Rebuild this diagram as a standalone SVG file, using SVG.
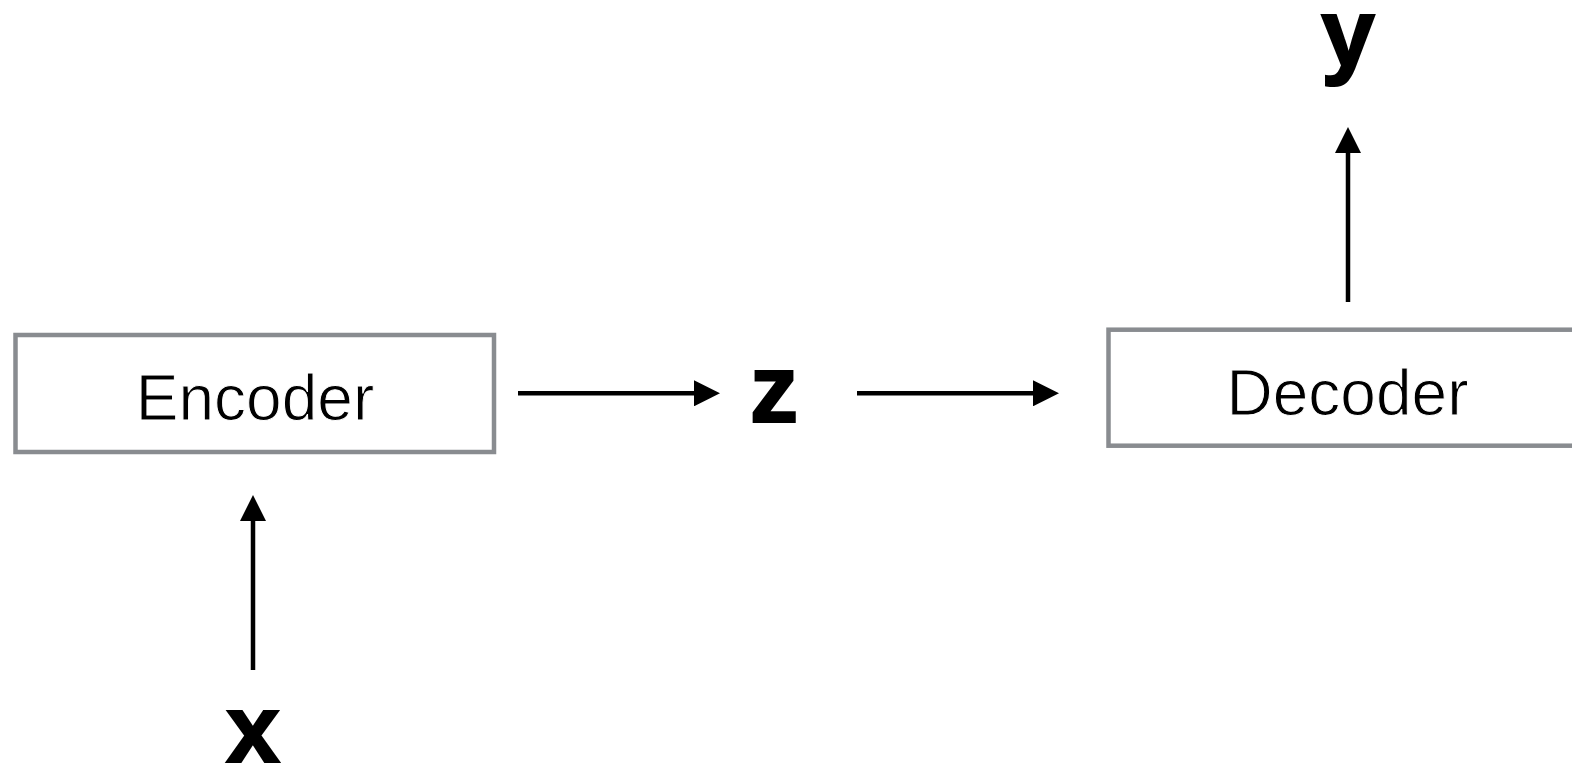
<svg xmlns="http://www.w3.org/2000/svg" width="1572" height="769" viewBox="0 0 1572 769">
  <style>
    .box { fill: #ffffff; stroke: #898c90; stroke-width: 4.5; }
    .lbl { font-family: "Liberation Sans", Arial, sans-serif; font-size: 64px; fill: #000000; text-anchor: middle; stroke: #ffffff; stroke-width: 1; paint-order: normal; }
    .var { font-family: "Liberation Sans", Arial, sans-serif; font-size: 97px; font-weight: bold; fill: #000000; text-anchor: middle; stroke: #000000; stroke-width: 2; stroke-linejoin: miter; }
    .conn { stroke: #000000; stroke-width: 4.5; fill: none; marker-end: url(#arrow); }
  </style>
  <defs>
    <marker id="arrow" markerUnits="userSpaceOnUse" markerWidth="27" markerHeight="26" refX="2" refY="13" orient="auto">
      <path d="M0,0 L26,13 L0,26 Z" fill="#000000"/>
    </marker>
  </defs>
  <rect width="1572" height="769" fill="#ffffff"/>
  <g id="encoder">
    <rect class="box" x="15.5" y="335" width="478.5" height="117"/>
    <text class="lbl" x="255" y="420">Encoder</text>
  </g>
  <g id="decoder">
    <rect class="box" x="1108.5" y="329.7" width="500" height="116"/>
    <text class="lbl" x="1347.5" y="415">Decoder</text>
  </g>
  <g id="var-x">
    <text class="var" x="253" y="762">x</text>
  </g>
  <g id="var-z">
    <text class="var" x="774" y="422">z</text>
  </g>
  <g id="var-y">
    <text class="var" x="1348" y="66">y</text>
  </g>
  <g id="connectors">
    <line class="conn" x1="253" y1="670" x2="253" y2="519"/>
    <line class="conn" x1="518" y1="393.3" x2="696" y2="393.3"/>
    <line class="conn" x1="857" y1="393.3" x2="1035" y2="393.3"/>
    <line class="conn" x1="1348" y1="302" x2="1348" y2="151"/>
  </g>
</svg>
